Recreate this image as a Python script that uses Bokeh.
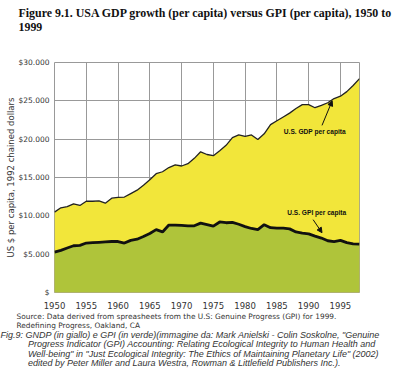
from bokeh.plotting import figure
from bokeh.models import Label, Arrow, NormalHead, FixedTicker, Range1d, Title
from bokeh.embed import file_html
from bokeh.resources import INLINE

years = list(range(1950, 1999))
gdp = [10480, 11050, 11200, 11570, 11350, 11900, 11900, 11950, 11650, 12300,
       12400, 12450, 12900, 13350, 14000, 14700, 15500, 15750, 16300, 16650,
       16500, 16800, 17500, 18350, 18000, 17850, 18500, 19200, 20200, 20550,
       20350, 20550, 19950, 20700, 21900, 22400, 22900, 23400, 24000, 24500,
       24500, 24100, 24400, 24750, 25300, 25600, 26200, 27000, 27900]
gpi = [5260, 5500, 5800, 6100, 6150, 6450, 6500, 6550, 6600, 6650,
       6650, 6450, 6800, 6950, 7300, 7700, 8200, 7900, 8800, 8800,
       8750, 8700, 8700, 9050, 8850, 8650, 9200, 9100, 9150, 8900,
       8600, 8350, 8200, 8850, 8450, 8400, 8400, 8300, 7900, 7750,
       7650, 7350, 7100, 6750, 6650, 6800, 6500, 6350, 6300]
zeros = [0] * len(years)

x_ticks = [1950, 1955, 1960, 1965, 1970, 1975, 1980, 1985, 1990, 1995]
y_ticks = [0, 5000, 10000, 15000, 20000, 25000, 30000]
y_tick_labels = ["$", "$5.000", "$10.000", "$15.000", "$20.000", "$25.000", "$30.000"]

title_lines = ["Figure 9.1. USA GDP growth (per capita) versus GPI (per capita), 1950 to", "1999"]
source_lines = ["Source: Data derived from spreasheets from the U.S: Genuine Progress (GPI) for 1999.",
                "Redefining Progress, Oakland, CA"]
caption_lines = ["Fig.9: GNDP (in giallo) e GPI (in verde)(immagine da: Mark Anielski - Colin Soskolne, \"Genuine",
                 "Progress Indicator (GPI) Accounting: Relating Ecological Integrity to Human Health and",
                 "Well-being\" in \"Just Ecological Integrity: The Ethics of Maintaining Planetary Life\" (2002)",
                 "edited by Peter Miller and Laura Westra, Rowman & Littlefield Publishers Inc.)."]

W, H = 400, 382
FL, FR, FT, FB = 54, 359, 62, 292  # frame edges in page px

p = figure(width=W, height=H, output_backend="svg", toolbar_location=None,
           x_range=Range1d(1950, 1998), y_range=Range1d(0, 30000),
           min_border_left=FL, min_border_right=W - FR, min_border_top=FT,
           min_border_bottom=H - FB)
p.background_fill_color = "white"
p.border_fill_color = "white"
p.outline_line_color = "#999999"

p.varea(x=years, y1=zeros, y2=gdp, fill_color="#f2e63a")
p.varea(x=years, y1=zeros, y2=gpi, fill_color="#afc43a")
p.line(years, gdp, line_color="#222222", line_width=1.3)
p.line(years, gpi, line_color="#111111", line_width=2.8)

p.xaxis.ticker = FixedTicker(ticks=x_ticks)
p.yaxis.ticker = FixedTicker(ticks=y_ticks)
p.yaxis.major_label_overrides = {t: l for t, l in zip(y_ticks, y_tick_labels)}
for ax in (p.xaxis[0], p.yaxis[0]):
    ax.axis_line_color = None
    ax.major_tick_line_color = None
    ax.minor_tick_line_color = None
    ax.major_tick_out = 0
    ax.major_tick_in = 0
    ax.major_label_text_color = "#333333"
    ax.major_label_text_font = "DejaVu Sans"
p.xaxis.major_label_text_font_size = "8.5px"
p.xaxis.major_label_standoff = 9
p.yaxis.major_label_text_font_size = "7.5px"
p.yaxis.major_label_standoff = 5
p.yaxis.axis_label = "US $ per capita, 1992 chained dollars"
p.yaxis.axis_label_text_font = "DejaVu Sans"
p.yaxis.axis_label_text_font_style = "normal"
p.yaxis.axis_label_text_font_size = "8.5px"
p.yaxis.axis_label_text_color = "#333333"
p.yaxis.axis_label_standoff = -1

p.xgrid.grid_line_color = "#999999"
p.ygrid.grid_line_color = "#999999"

# above: first added sits closest to the frame; a blank spacer lifts the title
p.add_layout(Title(text=" ", text_font_size="1px", standoff=26), "above")
p.add_layout(Title(text="\n".join(title_lines), align="left", offset=-36,
                   text_font="Liberation Serif", text_font_size="11.9px",
                   text_font_style="bold", text_line_height=1.0, standoff=0,
                   text_color="#111111"), "above")
# below: first added sits closest to the x axis
p.add_layout(Title(text="\n".join(source_lines), align="left", offset=-38,
                   text_font="DejaVu Sans", text_font_size="7.4px",
                   text_font_style="normal", text_line_height=1.0, standoff=-4,
                   text_color="#333333"), "below")
indent = "\u00a0" * 11
cap_text = "\n".join([caption_lines[0]] + [indent + t for t in caption_lines[1:]])
p.add_layout(Title(text=cap_text, align="left", offset=-54,
                   text_font="Liberation Sans", text_font_size="9px",
                   text_font_style="italic", text_line_height=0.96, standoff=0,
                   text_color="#333333"), "below")


def lab(text, px, py):
    p.add_layout(Label(x=px - FL, y=FB - py, x_units="screen", y_units="screen", text=text,
                       text_font="Liberation Sans", text_font_size="6.6px", text_font_style="bold",
                       text_align="left", text_baseline="middle", text_color="#111111"))


lab("U.S. GDP per capita", 283.3, 131)
lab("U.S. GPI per capita", 286.7, 211.7)

p.add_layout(Arrow(end=NormalHead(size=5, fill_color="#111111", line_color="#111111"),
                   x_start=1992.1, y_start=21800, x_end=1993.7, y_end=25000,
                   line_color="#111111", line_width=1))
p.add_layout(Arrow(end=NormalHead(size=5, fill_color="#111111", line_color="#111111"),
                   x_start=1990.7, y_start=9500, x_end=1992.1, y_end=7800,
                   line_color="#111111", line_width=1))

open("out.html", "w").write(file_html(p, INLINE))
